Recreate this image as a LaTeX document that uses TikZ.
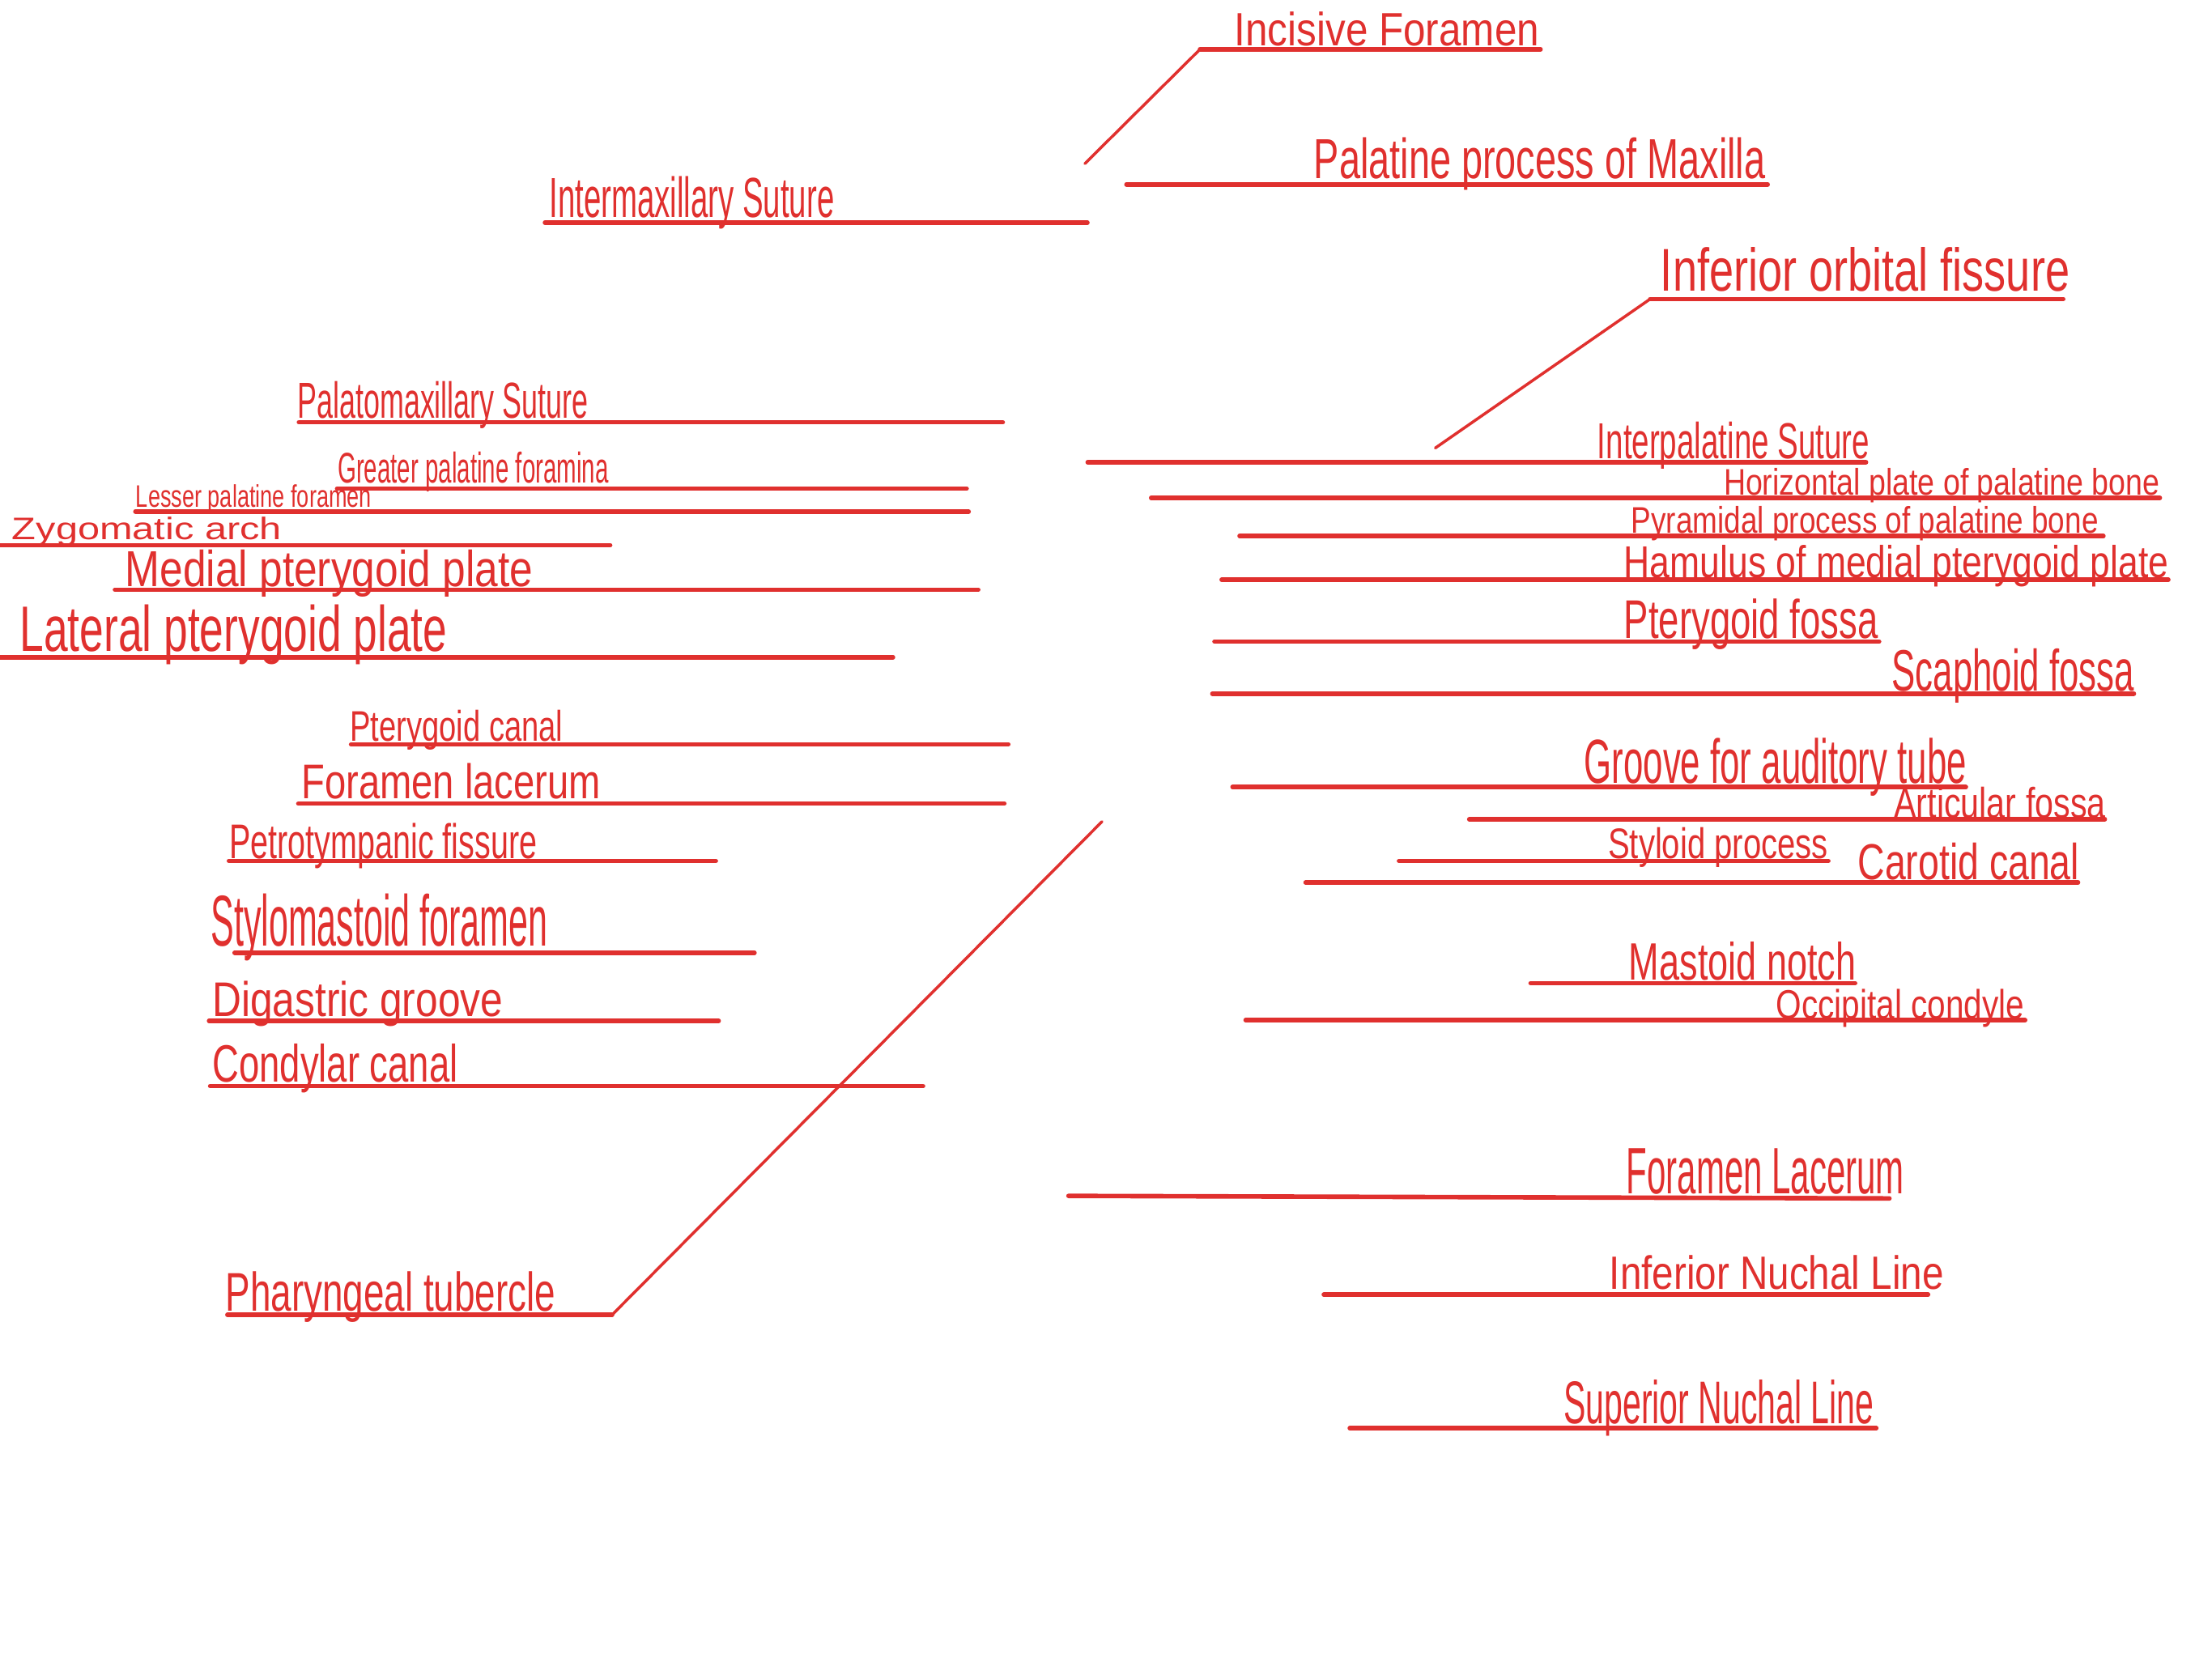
\documentclass[tikz,border=0pt]{standalone}
\usepackage{fontspec}
\setmainfont{Liberation Sans}
\usepackage{tikz}
\usepackage{xcolor}
\definecolor{PenRed}{HTML}{E0302E}
\newlength{\pxu}
\setlength{\pxu}{0.17423mm}
% handwritten label squeezed to a width and a height (in px units)
\newcommand{\hw}[3]{\resizebox{#1\pxu}{#2\pxu}{#3}}
\tikzset{
  lbl/.style={anchor=base west, inner sep=0pt, text=PenRed},
  uline/.style={draw=PenRed, line width=1.6pt, line cap=round},
  leader/.style={draw=PenRed, line width=1pt, line cap=round}
}

\begin{document}
\begin{tikzpicture}[x=0.17423mm, y=-0.17423mm]
\useasboundingbox (0,0) rectangle (1568,1175);

% top: palate
\node[lbl] (incisive) at (874.7,32.5) {\hw{216}{24}{Incisive Foramen}};
\coordinate (incisive-l) at (850.6,35);
\coordinate (incisive-p) at (769,116);
\draw[uline] (incisive-l) -- (1092,35);
\draw[leader] (incisive-l) -- (incisive-p);

\node[lbl] (palproc) at (931,126.3) {\hw{320}{29}{Palatine process of Maxilla}};
\draw[uline] (798.5,130.7) -- (1253,130.7);

\node[lbl] (intermax) at (389,154) {\hw{202}{29}{Intermaxillary Suture}};
\draw[uline] (386.3,157.8) -- (770.8,157.8);

\node[lbl] (infob) at (1176.7,206.6) {\hw{290}{31}{Inferior orbital fissure}};
\coordinate (infob-l) at (1169.7,212);
\coordinate (infob-p) at (1017.4,317.6);
\draw[uline] (infob-l) -- (1462.5,212);
\draw[leader] (infob-l) -- (infob-p);

\node[lbl] (palmax) at (210.5,296.5) {\hw{206}{26}{Palatomaxillary Suture}};
\draw[uline] (211.9,299.4) -- (710.8,299.4);

\node[lbl] (interpal) at (1131.9,325) {\hw{193}{26}{Interpalatine Suture}};
\draw[uline] (771,327.7) -- (1322.7,327.7);

\node[lbl] (greater) at (239,342.5) {\hw{192}{22}{Greater palatine foramina}};
\draw[uline] (239,346.3) -- (685.2,346.3);

\node[lbl] (horiz) at (1221.5,351) {\hw{309}{19}{Horizontal plate of palatine bone}};
\draw[uline] (816,353) -- (1531,353);

\node[lbl] (lesser) at (96,359.7) {\hw{167}{16}{Lesser palatine foramen}};
\draw[uline] (96,362.6) -- (686.6,362.6);

\node[lbl] (zyg) at (8.2,382.6) {\hw{191}{16}{Zygomatic arch}};
\draw[uline] (0,386.5) -- (432.5,386.5);

\node[lbl] (pyram) at (1156,377.8) {\hw{331}{19}{Pyramidal process of palatine bone}};
\draw[uline] (878.7,380) -- (1491,380);

% pterygoid region
\node[lbl] (medial) at (88.3,416) {\hw{289}{26}{Medial pterygoid plate}};
\draw[uline] (81.5,418) -- (693.4,418);

\node[lbl] (hamulus) at (1150.8,409.4) {\hw{386}{23}{Hamulus of medial pterygoid plate}};
\draw[uline] (866,411) -- (1537,411);

\node[lbl] (lateral) at (13.7,462) {\hw{303}{33}{Lateral pterygoid plate}};
\draw[uline] (0,465.9) -- (633,465.9);

\node[lbl] (ptfossa) at (1150.8,452.4) {\hw{180}{28}{Pterygoid fossa}};
\draw[uline] (860.9,454.8) -- (1332,454.8);

\node[lbl] (scaph) at (1340.6,489.7) {\hw{172}{30}{Scaphoid fossa}};
\draw[uline] (859.4,491.7) -- (1512.6,491.7);

\node[lbl] (ptcanal) at (247.7,525.2) {\hw{151}{22}{Pterygoid canal}};
\draw[uline] (248.9,527.7) -- (714.7,527.7);

\node[lbl] (groove) at (1122.6,555.2) {\hw{271}{32}{Groove for auditory tube}};
\draw[uline] (873.7,558) -- (1393.5,558);

\node[lbl] (forlacl) at (213.4,566.3) {\hw{212}{25}{Foramen lacerum}};
\draw[uline] (211.5,569.7) -- (711.9,569.7);

\node[lbl] (artic) at (1342.2,579.7) {\hw{150}{22}{Articular fossa}};
\draw[uline] (1041.5,580.8) -- (1492,580.8);

\node[lbl] (styloid) at (1139.5,608.4) {\hw{156}{22}{Styloid process}};
\draw[uline] (991.7,610.3) -- (1296,610.3);

\node[lbl] (carotid) at (1316.5,623.7) {\hw{157}{26}{Carotid canal}};
\draw[uline] (925.5,625.6) -- (1473,625.6);

% temporal / occipital
\node[lbl] (petro) at (162.3,608.4) {\hw{218}{25}{Petrotympanic fissure}};
\draw[uline] (162.3,610.3) -- (507.4,610.3);

\node[lbl] (stylomast) at (149,670.6) {\hw{239}{37}{Stylomastoid foramen}};
\draw[uline] (166.3,675.4) -- (534.8,675.4);

\node[lbl] (mastoid) at (1154.3,694.5) {\hw{161}{27}{Mastoid notch}};
\draw[uline] (1085,697) -- (1315,697);

\node[lbl] (occip) at (1258.5,722.2) {\hw{176}{21}{Occipital condyle}};
\draw[uline] (883,723.2) -- (1435.5,723.2);

\node[lbl] (digastric) at (150.2,720.3) {\hw{206}{25}{Digastric groove}};
\draw[uline] (148.2,723.8) -- (509.4,723.8);

\node[lbl] (condylar) at (150.2,767.2) {\hw{174}{27}{Condylar canal}};
\draw[uline] (149,770) -- (654.3,770);

\node[lbl] (pharyn) at (159.5,929.6) {\hw{234}{28}{Pharyngeal tubercle}};
\coordinate (pharyn-r) at (433.9,932.1);
\coordinate (pharyn-p) at (781.2,582.4);
\draw[uline] (161.2,932.1) -- (pharyn-r);
\draw[leader] (pharyn-r) -- (pharyn-p);

\node[lbl] (forlacr) at (1152.5,846) {\hw{197}{32}{Foramen Lacerum}};
\draw[uline] (757.4,847.8) -- (1339.3,849.6);

\node[lbl] (infnuch) at (1140.5,913.7) {\hw{237}{24}{Inferior Nuchal Line}};
\draw[uline] (938.4,917.8) -- (1366.7,917.8);

\node[lbl] (supnuch) at (1108,1009) {\hw{220}{31}{Superior Nuchal Line}};
\draw[uline] (956.8,1012.5) -- (1330,1012.5);
\end{tikzpicture}
\end{document}
